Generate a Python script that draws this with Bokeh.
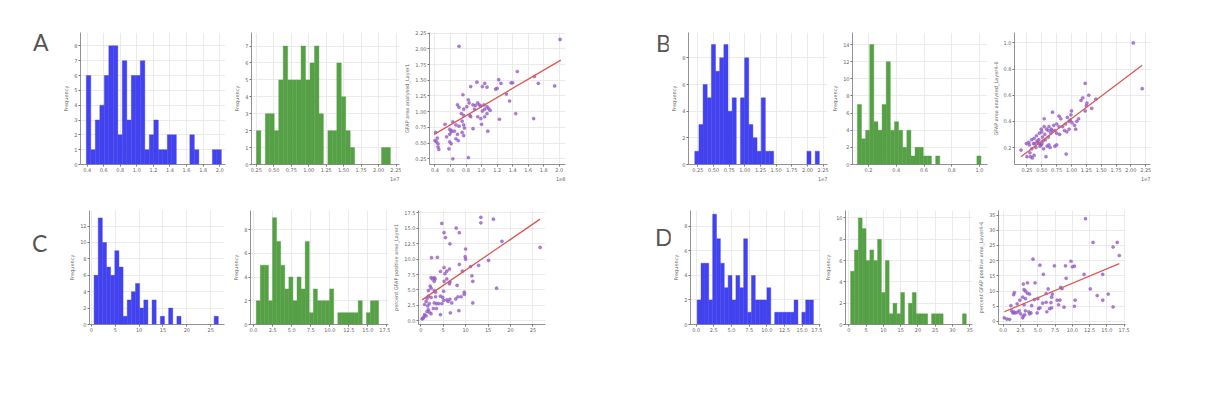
import numpy as np
from bokeh.plotting import figure
from bokeh.layouts import row, column
from bokeh.models import Div, FixedTicker, Title, Range1d, PrintfTickFormatter
from bokeh.embed import file_html
from bokeh.resources import INLINE

# ---------------- data ----------------
# Panel A
A1_counts = [6, 1, 3, 4, 6, 8, 8, 2, 7, 3, 6, 6, 7, 1, 2, 3, 1, 1, 2, 2, 0, 0, 0, 2, 1, 0, 0, 0, 1, 1]
A1_span = (0.39, 2.02)
A2_counts = [2, 0, 3, 3, 2, 5, 7, 5, 5, 5, 7, 5, 6, 7, 3, 0, 2, 2, 6, 4, 2, 1, 0, 0, 0, 0, 0, 0, 1, 1]
A2_span = (0.25, 2.17)
A3_x = [0.71, 2.01, 1.46, 0.94, 1.04, 0.86, 1.01, 1.07, 1.22, 1.25, 1.18, 1.20, 1.38, 1.40, 1.68, 1.73, 1.94,
        0.76, 1.32, 1.36,
        0.83, 0.84, 0.69, 0.71, 0.77, 0.81, 0.89, 0.92, 0.95, 0.97, 0.99, 1.03, 1.07, 1.09, 1.11, 1.04, 1.01, 0.91,
        0.74, 0.77, 0.85, 0.86, 0.95, 0.99, 1.04, 1.07, 1.44, 1.23, 1.67,
        0.53, 0.67, 0.71, 0.63, 0.59, 0.61, 0.65, 0.75, 0.77, 0.78, 0.75, 0.69, 0.77, 0.89, 1.00, 1.08,
        0.41, 0.43, 0.55, 0.59, 0.61, 0.40, 0.42, 0.44, 0.44, 0.45, 0.59, 0.61, 0.67, 0.70, 0.58, 0.63, 0.83]
A3_y = [2.04, 2.15, 1.64, 1.47, 1.45, 1.40, 1.40, 1.39, 1.51, 1.45, 1.36, 1.37, 1.46, 1.46, 1.56, 1.45, 1.41,
        1.27, 1.28, 1.17,
        1.19, 1.14, 1.11, 1.07, 1.04, 1.08, 1.11, 1.10, 1.14, 1.11, 1.09, 1.11, 1.08, 1.05, 1.02, 1.04, 1.01, 1.04,
        0.97, 0.94, 0.94, 0.92, 0.92, 0.89, 0.92, 0.97, 0.97, 0.88, 0.89,
        0.80, 0.79, 0.77, 0.84, 0.72, 0.70, 0.69, 0.85, 0.79, 0.74, 0.67, 0.64, 0.62, 0.73, 0.80, 0.69,
        0.67, 0.58, 0.60, 0.64, 0.68, 0.54, 0.52, 0.49, 0.44, 0.40, 0.52, 0.49, 0.57, 0.54, 0.41, 0.25, 0.27]
A3_fit_x = [0.39, 2.02]
A3_fit_y = [0.64, 1.82]

# Panel B
B1_counts = [1, 3, 6, 5, 9, 7, 8, 9, 4, 5, 0, 5, 8, 3, 2, 1, 5, 1, 1, 0, 0, 0, 0, 0, 0, 0, 0, 1, 0, 1]
B1_span = (0.20, 2.19)
B2_counts = [7, 3, 4, 14, 5, 4, 7, 12, 4, 5, 4, 2, 4, 1, 2, 2, 1, 1, 0, 1, 0, 0, 0, 0, 0, 0, 0, 0, 0, 1]
B2_span = (0.12, 1.01)
B3_x = [2.04, 2.19, 1.23, 1.29, 1.16, 1.19, 1.41, 1.26, 1.25, 1.23, 1.34,
        0.68, 0.54, 0.79, 0.82, 0.93, 0.99, 1.00, 0.98, 0.96, 1.01, 1.09, 1.05, 0.96, 0.88, 0.92, 1.07,
        0.75, 0.79, 0.70, 0.62, 0.66, 0.58, 0.61, 0.67, 0.72, 0.75, 0.54, 0.50, 0.46, 0.49,
        0.41, 0.37, 0.33, 0.28, 0.45, 0.51, 0.56, 0.61, 0.38, 0.46, 0.49, 0.47, 0.50,
        0.43, 0.36, 0.29, 0.24, 0.15,
        0.33, 0.30, 0.25, 0.31, 0.34, 0.37,
        0.59, 0.62, 0.64, 0.72, 0.75, 0.57, 0.91,
        0.55, 0.65, 0.42, 0.52, 0.85, 0.90, 1.12, 0.80, 0.53, 0.40]
B3_y = [1.00, 0.65, 0.69, 0.60, 0.56, 0.58, 0.57, 0.54, 0.52, 0.48, 0.50,
        0.47, 0.42, 0.44, 0.42, 0.43, 0.45, 0.48, 0.41, 0.40, 0.39, 0.40, 0.37, 0.34, 0.33, 0.32, 0.34,
        0.38, 0.36, 0.37, 0.36, 0.34, 0.34, 0.33, 0.33, 0.33, 0.31, 0.36, 0.32, 0.31, 0.34,
        0.29, 0.27, 0.26, 0.24, 0.26, 0.28, 0.26, 0.28, 0.23, 0.23, 0.22, 0.21, 0.23,
        0.24, 0.23, 0.22, 0.23, 0.18,
        0.19, 0.16, 0.13, 0.13, 0.12, 0.14,
        0.21, 0.22, 0.20, 0.21, 0.22, 0.13, 0.15,
        0.30, 0.31, 0.25, 0.25, 0.36, 0.38, 0.42, 0.30, 0.19, 0.20]
B3_fit_x = [0.15, 2.19]
B3_fit_y = [0.13, 0.83]

# Panel C
C1_counts = [6, 13, 10, 7, 6, 9, 7, 1, 3, 4, 5, 2, 3, 0, 3, 0, 1, 0, 2, 0, 1, 0, 0, 0, 0, 0, 0, 0, 0, 1]
C1_span = (0.56, 26.6)
C2_counts = [2, 5, 5, 2, 9, 7, 5, 3, 4, 2, 4, 3, 7, 1, 3, 2, 2, 2, 3, 0, 1, 1, 1, 1, 1, 2, 0, 1, 2, 2]
C2_span = (0.35, 16.4)
C3_x = [4.7, 13.4, 13.4, 16.2, 7.9, 5.2, 8.6, 5.5, 6.5, 18.1, 26.6, 10.0, 2.4, 3.7, 9.9, 10.0, 15.1, 8.6, 12.9, 11.1,
        5.2, 4.4, 5.8, 6.4, 9.3, 5.4, 2.3, 2.6, 3.0, 3.2, 3.0, 5.8, 5.2, 6.5, 6.4, 11.4, 11.6,
        2.1, 2.3, 1.7, 3.0, 3.3, 5.1, 8.1, 16.9, 9.7, 9.7, 9.0,
        1.7, 1.4, 2.3, 3.3, 4.4, 4.9, 7.8, 8.3, 5.1, 5.8, 6.1, 6.5, 6.9, 11.6,
        0.85, 1.2, 1.9, 1.55, 3.0, 3.5, 4.0, 4.7,
        2.8, 3.5, 1.7, 1.9, 1.4, 2.3, 4.4, 6.6, 8.5,
        0.85, 0.7, 0.3, 0.5, 1.2]
C3_y = [15.8, 16.8, 15.9, 16.5, 15.05, 14.3, 14.3, 13.5, 12.5, 12.9, 11.9, 11.65, 10.25, 10.3, 10.4, 10.0, 9.8, 9.15, 9.0, 8.8,
        8.65, 8.0, 8.05, 8.4, 8.05, 7.65, 7.0, 6.8, 7.0, 6.8, 6.4, 6.8, 6.4, 6.3, 6.0, 7.3, 6.4,
        5.65, 5.3, 4.9, 4.9, 4.65, 4.8, 5.75, 5.3, 4.65, 4.3, 3.9,
        4.0, 3.65, 3.8, 3.9, 4.0, 3.8, 3.55, 3.9, 3.3, 3.4, 3.15, 3.5, 2.9, 2.9,
        2.65, 3.15, 2.8, 2.4, 2.9, 2.8, 2.8, 2.8,
        2.0, 2.0, 1.8, 1.4, 1.5, 1.15, 1.0, 1.3, 1.65,
        1.0, 0.65, 0.3, 0.4, 0.8]
C3_fit_x = [0.3, 26.6]
C3_fit_y = [3.4, 16.5]

# Panel D
D1_counts = [2, 5, 5, 2, 9, 7, 5, 3, 4, 2, 4, 3, 7, 1, 4, 2, 2, 2, 3, 0, 1, 1, 1, 1, 1, 2, 0, 1, 2, 2]
D1_span = (0.14, 16.6)
D2_counts = [5, 7, 10, 9, 6, 7, 6, 8, 3, 6, 1, 2, 1, 3, 0, 2, 3, 1, 1, 1, 0, 1, 1, 1, 0, 0, 0, 0, 0, 1]
D2_span = (0.47, 34.0)
D3_x = [11.9, 13.0, 16.5, 15.9, 16.8, 4.3, 9.8, 5.3, 7.4, 9.0, 10.0, 10.3, 5.8, 11.7, 14.4, 9.1, 4.6,
        2.9, 3.5, 3.0, 6.5, 8.3, 8.5, 12.6,
        1.6, 1.5, 3.2, 3.5, 3.8, 2.8, 3.2, 2.4,
        6.2, 7.1, 7.0, 13.6, 15.2, 7.8, 8.2, 10.4,
        4.5, 5.0, 5.7, 6.2, 6.9, 8.0, 14.4,
        1.1, 2.0, 3.0, 4.1,
        5.3, 5.1, 6.7, 7.0, 8.8, 10.3, 15.9,
        1.2, 1.4, 1.7, 1.5, 2.0, 2.3, 2.5, 3.2, 3.7, 4.0, 3.8, 4.9, 6.3,
        2.8, 2.9, 3.1,
        0.14, 0.5, 0.9]
D3_y = [33.8, 26.0, 26.0, 24.5, 21.7, 20.5, 19.8, 18.5, 18.3, 18.3, 18.0, 18.2, 15.5, 15.5, 15.5, 14.2, 12.7,
        12.3, 12.7, 10.5, 10.7, 11.2, 10.8, 10.7,
        9.5, 8.8, 10.0, 9.3, 9.0, 8.0, 7.5, 7.0,
        9.2, 9.0, 8.0, 8.5, 9.0, 7.0, 7.0, 7.0,
        7.2, 7.5, 6.0, 6.3, 6.2, 5.5, 7.0,
        5.2, 5.8, 5.5, 5.2,
        4.5, 4.2, 4.2, 4.5, 4.7, 5.0, 4.8,
        3.5, 2.8, 2.8, 3.2, 3.0, 3.5, 2.5, 3.5, 3.2, 2.8, 2.5, 2.8, 3.2,
        1.2, 1.8, 2.2,
        1.2, 0.8, 0.7]
D3_fit_x = [0.14, 16.8]
D3_fit_y = [3.2, 19.0]

# tick values
t_02_20 = [0.4, 0.6, 0.8, 1.0, 1.2, 1.4, 1.6, 1.8, 2.0]
t_025_225 = [0.25, 0.5, 0.75, 1.0, 1.25, 1.5, 1.75, 2.0, 2.25]
t_0_8_1 = [0, 1, 2, 3, 4, 5, 6, 7, 8]
t_0_14_2 = [0, 2, 4, 6, 8, 10, 12, 14]
t_02_10 = [0.2, 0.4, 0.6, 0.8, 1.0]
t_0_25_5 = [0, 5, 10, 15, 20, 25]
t_0_175 = [0.0, 2.5, 5.0, 7.5, 10.0, 12.5, 15.0, 17.5]
t_0_35_5 = [0, 5, 10, 15, 20, 25, 30, 35]

Y_LAB_A3 = "GFAP area analysed_Layer1"
Y_LAB_B3 = "GFAP area analysed_Layer4-6"
Y_LAB_C3 = "percent GFAP positive area_Layer1"
Y_LAB_D3 = "percent GFAP positive area_Layer4-6"

# ---------------- styling ----------------
BLUE = "#4242ee"
GREEN = "#56a046"
PURPLE = "#9a5cc8"
RED = "#d85a55"
TXT = "#666666"
FONT = "DejaVu Sans"


def base_fig(width, height, bl, br, bt, bb, xr, yr, xticks, yticks, xfmt, yfmt, ylabel):
    p = figure(width=width, height=height, x_range=Range1d(*xr), y_range=Range1d(*yr),
               output_backend="svg", toolbar_location=None,
               min_border_left=bl, min_border_right=br, min_border_top=bt, min_border_bottom=bb)
    p.outline_line_color = None
    p.background_fill_color = "white"
    p.border_fill_color = "white"
    xt = FixedTicker(ticks=xticks)
    yt = FixedTicker(ticks=yticks)
    p.xaxis.ticker = xt
    p.yaxis.ticker = yt
    p.xgrid.ticker = xt
    p.ygrid.ticker = yt
    p.xaxis.formatter = PrintfTickFormatter(format=xfmt)
    p.yaxis.formatter = PrintfTickFormatter(format=yfmt)
    for ax in (p.xaxis[0], p.yaxis[0]):
        ax.axis_line_color = "#777777"
        ax.axis_line_width = 0.8
        ax.major_tick_out = 2
        ax.major_tick_in = 0
        ax.major_tick_line_color = "#777777"
        ax.minor_tick_out = 0
        ax.minor_tick_in = 0
        ax.major_label_text_font_size = "5px"
        ax.major_label_text_color = TXT
        ax.major_label_text_font = FONT
        ax.major_label_standoff = 1
        ax.axis_label_text_font_size = "5px"
        ax.axis_label_text_font_style = "normal"
        ax.axis_label_text_color = TXT
        ax.axis_label_text_font = FONT
        ax.axis_label_standoff = 2
    p.yaxis.axis_label = ylabel
    p.grid.grid_line_color = "#e6e6e6"
    p.grid.grid_line_width = 0.8
    return p


def add_hist(p, counts, span, color):
    c = np.asarray(counts, dtype=float)
    edges = np.linspace(span[0], span[1], len(c) + 1)
    m = c > 0
    p.quad(left=edges[:-1][m], right=edges[1:][m], bottom=0, top=c[m],
           fill_color=color, line_color=color, line_width=0.4)


def add_scatter(p, xs, ys, fx, fy):
    p.scatter(xs, ys, size=3.2, fill_color=PURPLE, fill_alpha=0.8,
              line_color="#7b4bb5", line_alpha=0.6, line_width=0.5)
    p.line(fx, fy, line_color=RED, line_width=1.3)


def offset_label(p, txt):
    t = Title(text=txt, align="right", text_font_size="5px", text_font_style="normal",
              text_color=TXT, text_font=FONT, standoff=0, offset=0)
    p.add_layout(t, "below")


def letter(txt, w, h, pl, pt):
    html = ('<div style="font-family:Lato,\'Open Sans\',sans-serif;font-weight:400;'
            'font-size:23px;line-height:23px;color:#555555;'
            f'padding-left:{pl}px;padding-top:{pt}px;">{txt}</div>')
    return Div(text=html, width=w, height=h, margin=0)


# ---------------- top row ----------------
H1 = 188
xrA1, yrA1 = (0.32, 2.07), (0, 8.9)
pA1 = base_fig(172, H1, 24, 3, 27, 16, xrA1, yrA1, t_02_20, t_0_8_1, "%.1f", "%d", "Frequency")
add_hist(pA1, A1_counts, A1_span, BLUE)

xrA2, yrA2 = (0.18, 2.30), (0, 7.8)
pA2 = base_fig(173, H1, 23, 2, 27, 16, xrA2, yrA2, t_025_225, t_0_8_1, "%.2f", "%d", "Frequency")
add_hist(pA2, A2_counts, A2_span, GREEN)
offset_label(pA2, "1e7")

xrA3, yrA3 = (0.33, 2.08), (0.16, 2.26)
pA3 = base_fig(168, H1, 19, 4, 32, 16, xrA3, yrA3, t_02_20, t_025_225, "%.1f", "%.2f", Y_LAB_A3)
add_scatter(pA3, A3_x, A3_y, A3_fit_x, A3_fit_y)
offset_label(pA3, "1e8")

xrB1, yrB1 = (0.10, 2.32), (0, 9.9)
pB1 = base_fig(161, H1, 14, 2, 26, 24, xrB1, yrB1, t_025_225, t_0_14_2, "%.2f", "%d", "Frequency")
add_hist(pB1, B1_counts, B1_span, BLUE)
offset_label(pB1, "1e7")

xrB2, yrB2 = (0.085, 1.057), (0, 15.4)
pB2 = base_fig(160, H1, 16, 2, 25, 24, xrB2, yrB2, t_02_10, t_0_14_2, "%.1f", "%d", "Frequency")
add_hist(pB2, B2_counts, B2_span, GREEN)

xrB3, yrB3 = (0.04, 2.33), (0.07, 1.08)
pB3 = base_fig(169, H1, 16, 8, 27, 24, xrB3, yrB3, t_025_225, t_02_10, "%.2f", "%.1f", Y_LAB_B3)
add_scatter(pB3, B3_x, B3_y, B3_fit_x, B3_fit_y)
offset_label(pB3, "1e7")

top = row(letter("A", 56, H1, 33, 31), pA1, pA2, pA3,
          letter("B", 99, H1, 87, 32), pB1, pB2, pB3, spacing=0)

# ---------------- bottom row ----------------
H2 = 160
xrC1, yrC1 = (-0.4, 27.9), (0, 13.9)
pC1 = base_fig(161, H2, 24, 2, 12, 24, xrC1, yrC1, t_0_25_5, t_0_14_2, "%d", "%d", "Frequency")
add_hist(pC1, C1_counts, C1_span, BLUE)

xrC2, yrC2 = (-0.4, 17.7), (0, 9.6)
pC2 = base_fig(164, H2, 24, 2, 12, 24, xrC2, yrC2, t_0_175, t_0_14_2, "%.1f", "%d", "Frequency")
add_hist(pC2, C2_counts, C2_span, GREEN)

xrC3, yrC3 = (-0.5, 27.8), (-0.6, 17.9)
pC3 = base_fig(159, H2, 23, 4, 12, 24, xrC3, yrC3, t_0_25_5, t_0_175, "%d", "%.1f", Y_LAB_C3)
add_scatter(pC3, C3_x, C3_y, C3_fit_x, C3_fit_y)

xrD1, yrD1 = (-0.8, 17.6), (0, 9.3)
pD1 = base_fig(152, H2, 15, 2, 22, 18, xrD1, yrD1, t_0_175, t_0_14_2, "%.1f", "%d", "Frequency")
add_hist(pD1, D1_counts, D1_span, BLUE)

xrD2, yrD2 = (-1.0, 35.8), (0, 10.7)
pD2 = base_fig(153, H2, 19, 3, 19, 18, xrD2, yrD2, t_0_35_5, t_0_14_2, "%d", "%d", "Frequency")
add_hist(pD2, D2_counts, D2_span, GREEN)

xrD3, yrD3 = (-0.7, 17.7), (-1.0, 36.5)
pD3 = base_fig(158, H2, 17, 8, 17, 18, xrD3, yrD3, t_0_175, t_0_35_5, "%.1f", "%d", Y_LAB_D3)
add_scatter(pD3, D3_x, D3_y, D3_fit_x, D3_fit_y)

bottom = row(letter("C", 65, H2, 32, 44), pC1, pC2, pC3,
             letter("D", 121, H2, 106, 38), pD1, pD2, pD3, spacing=0)

layout = column(top, bottom, spacing=0)

open("out.html", "w").write(file_html(layout, INLINE))
